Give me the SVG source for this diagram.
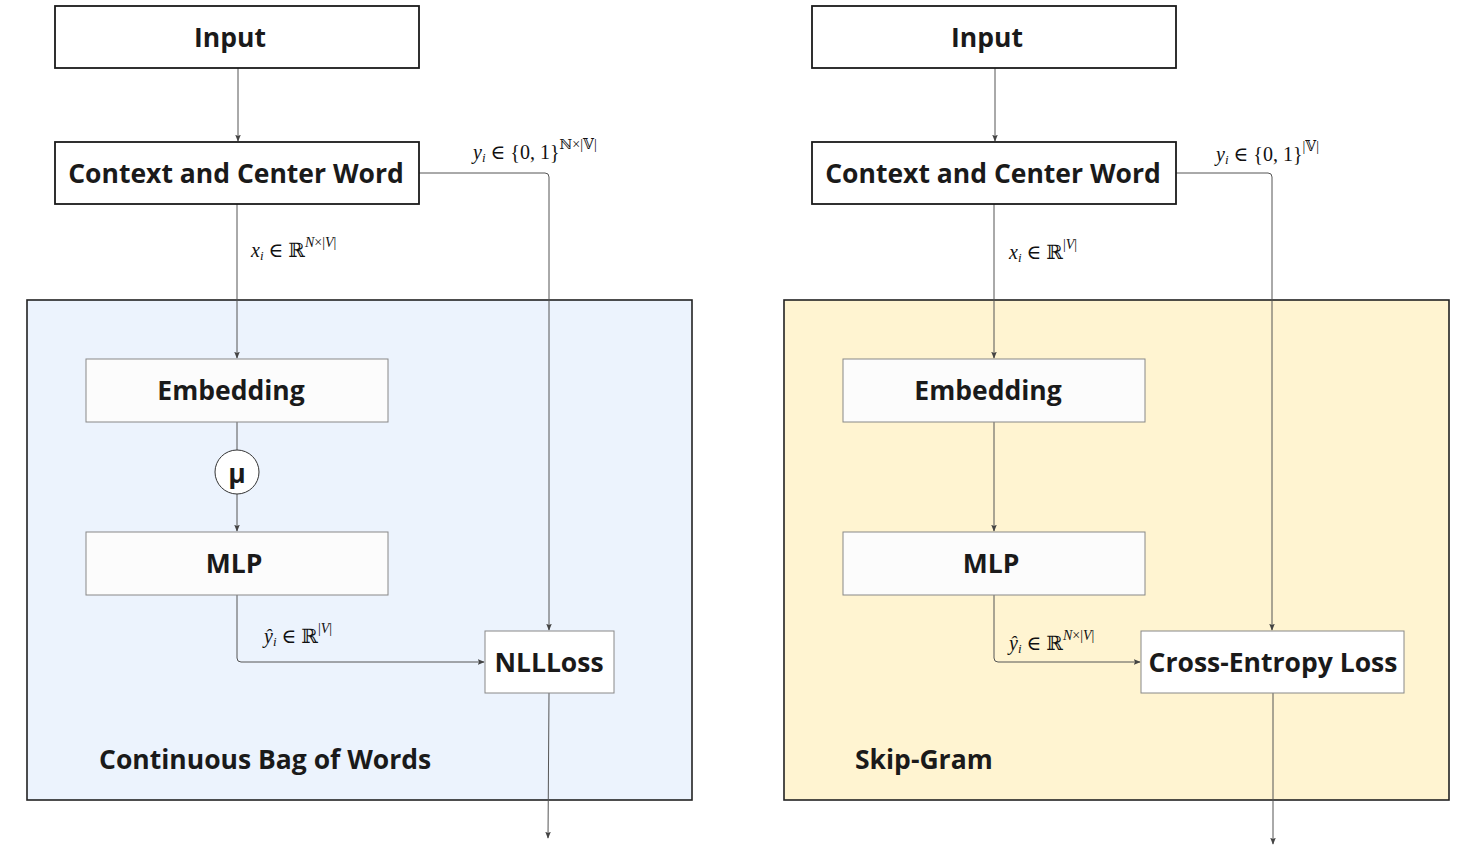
<svg xmlns="http://www.w3.org/2000/svg" width="1484" height="854" viewBox="0 0 1484 854">
<style>
.bg{fill:#ffffff}
.top{fill:#ffffff;stroke:#1a1a1a;stroke-width:1.8}
.inner{fill:#fcfcfc;stroke:#888888;stroke-width:1}
.cbow{fill:#ecf3fd;stroke:#222222;stroke-width:1.6}
.sg{fill:#fff4d1;stroke:#222222;stroke-width:1.6}
.t{font-family:"Open Sans","Liberation Sans",sans-serif;font-weight:700;font-size:26.5px;fill:#1a1a1a;text-anchor:middle;dominant-baseline:central}
.lab{font-family:"Open Sans","Liberation Sans",sans-serif;font-weight:700;font-size:26.5px;fill:#1a1a1a}
.m{font-family:"Liberation Serif","DejaVu Serif",serif;font-size:20px;fill:#111111}
.mi{font-style:italic}
.sub{font-size:13px;font-style:italic}
.sup{font-size:14px}
.c{fill:none;stroke:#555555;stroke-width:1}
</style>
<defs>
<marker id="ah" viewBox="0 0 10 10" refX="9" refY="5" markerWidth="7" markerHeight="7" orient="auto" markerUnits="userSpaceOnUse">
<path d="M0,1 L10,5 L0,9 L2,5 Z" fill="#444444"/>
</marker>
</defs>
<rect class="bg" x="0" y="0" width="1484" height="854"/>

<g id="cbow-container"><rect class="cbow" x="27" y="300" width="665" height="500"/>
<text class="lab" x="99" y="769">Continuous Bag of Words</text></g>
<g id="sg-container"><rect class="sg" x="784" y="300" width="665" height="500"/>
<text class="lab" x="855" y="769">Skip-Gram</text></g>

<g id="connectors">
<path class="c" d="M238,68 V141" marker-end="url(#ah)"/>
<path class="c" d="M237,204 V358" marker-end="url(#ah)"/>
<path class="c" d="M237,422 V450"/>
<path class="c" d="M237,494 V531" marker-end="url(#ah)"/>
<path class="c" d="M237,595 V658 Q237,662 241,662 H484" marker-end="url(#ah)"/>
<path class="c" d="M419,173 H545 Q549,173 549,177 V630" marker-end="url(#ah)"/>
<path class="c" d="M549,693 L548,838" marker-end="url(#ah)"/>

<path class="c" d="M995,68 V141" marker-end="url(#ah)"/>
<path class="c" d="M994,204 V358" marker-end="url(#ah)"/>
<path class="c" d="M994,422 V531" marker-end="url(#ah)"/>
<path class="c" d="M994,595 V658 Q994,662 998,662 H1140" marker-end="url(#ah)"/>
<path class="c" d="M1176,173 H1268 Q1272,173 1272,177 V630" marker-end="url(#ah)"/>
<path class="c" d="M1273,693 V844" marker-end="url(#ah)"/>
</g>

<g id="labels">
<text class="m" x="473" y="159"><tspan class="mi">y</tspan><tspan class="sub" dy="3">i</tspan><tspan dy="-3"> ∈ {0, 1}</tspan><tspan class="sup" dy="-10">ℕ×|𝕍|</tspan></text>
<text class="m" x="251" y="257"><tspan class="mi">x</tspan><tspan class="sub" dy="3">i</tspan><tspan dy="-3"> ∈ ℝ</tspan><tspan class="sup" dy="-10"><tspan class="mi">N</tspan>×|<tspan class="mi">V</tspan>|</tspan></text>
<text class="m" x="264" y="643"><tspan class="mi">ŷ</tspan><tspan class="sub" dy="3">i</tspan><tspan dy="-3"> ∈ ℝ</tspan><tspan class="sup" dy="-10">|<tspan class="mi">V</tspan>|</tspan></text>
<text class="m" x="1216" y="161"><tspan class="mi">y</tspan><tspan class="sub" dy="3">i</tspan><tspan dy="-3"> ∈ {0, 1}</tspan><tspan class="sup" dy="-10">|𝕍|</tspan></text>
<text class="m" x="1009" y="259"><tspan class="mi">x</tspan><tspan class="sub" dy="3">i</tspan><tspan dy="-3"> ∈ ℝ</tspan><tspan class="sup" dy="-10">|<tspan class="mi">V</tspan>|</tspan></text>
<text class="m" x="1009" y="650"><tspan class="mi">ŷ</tspan><tspan class="sub" dy="3">i</tspan><tspan dy="-3"> ∈ ℝ</tspan><tspan class="sup" dy="-10"><tspan class="mi">N</tspan>×|<tspan class="mi">V</tspan>|</tspan></text>
</g>

<g id="input-l"><rect class="top" x="55" y="6" width="364" height="62"/><text class="t" x="230" y="37">Input</text></g>
<g id="context-l"><rect class="top" x="55" y="142" width="364" height="62"/><text class="t" x="236" y="173">Context and Center Word</text></g>
<g id="embedding-l"><rect class="inner" x="86" y="359" width="302" height="63"/><text class="t" x="231" y="390">Embedding</text></g>
<g id="mu"><circle cx="237" cy="472" r="22" fill="#ffffff" stroke="#333333" stroke-width="1"/><text class="t" x="237" y="473">μ</text></g>
<g id="mlp-l"><rect class="inner" x="86" y="532" width="302" height="63"/><text class="t" x="234" y="563">MLP</text></g>
<g id="nllloss"><rect class="inner" x="485" y="631" width="129" height="62" style="fill:#ffffff"/><text class="t" x="549" y="662">NLLLoss</text></g>

<g id="input-r"><rect class="top" x="812" y="6" width="364" height="62"/><text class="t" x="987" y="37">Input</text></g>
<g id="context-r"><rect class="top" x="812" y="142" width="364" height="62"/><text class="t" x="993" y="173">Context and Center Word</text></g>
<g id="embedding-r"><rect class="inner" x="843" y="359" width="302" height="63"/><text class="t" x="988" y="390">Embedding</text></g>
<g id="mlp-r"><rect class="inner" x="843" y="532" width="302" height="63"/><text class="t" x="991" y="563">MLP</text></g>
<g id="celoss"><rect class="inner" x="1141" y="631" width="263" height="62" style="fill:#ffffff"/><text class="t" x="1273" y="662">Cross-Entropy Loss</text></g>
</svg>
